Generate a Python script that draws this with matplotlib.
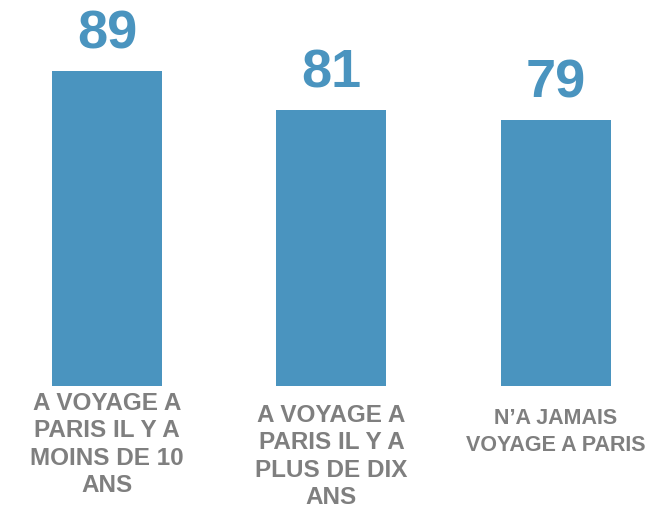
import matplotlib.pyplot as plt

categories = [
    "A VOYAGE A\nPARIS IL Y A\nMOINS DE 10\nANS",
    "A VOYAGE A\nPARIS IL Y A\nPLUS DE DIX\nANS",
    "N\u2019A JAMAIS\nVOYAGE A PARIS",
]
values = [89, 81, 79]

# vertical offset (pixels below the bar base) and size of each category label
label_drop = [6, 18, 22]
label_size = [17.5, 17.5, 15.5]
label_spacing = [1.24, 1.24, 1.4]

bar_color = "#4A94BF"
text_color = "#7F7F7F"

plt.rcParams["font.family"] = ["Liberation Sans", "DejaVu Sans"]

fig = plt.figure(figsize=(6.72, 5.08), dpi=100)
ax = fig.add_axes([0, 0.240, 1, 0.760])

x = range(len(values))
bars = ax.bar(x, values, width=0.49, color=bar_color)

ax.set_xlim(-0.4766, 2.517)
ax.set_ylim(24.4, 103.6)
ax.axis("off")

for rect, v in zip(bars, values):
    ax.annotate(str(v), (rect.get_x() + rect.get_width() / 2, v),
                xytext=(0, 8.5), textcoords="offset points",
                ha="center", va="bottom", fontsize=39,
                fontweight="bold", color=bar_color)

for i, cat in enumerate(categories):
    ax.annotate(cat, (i, 24.4), xytext=(0, -label_drop[i] * 0.72),
                textcoords="offset points", ha="center", va="top",
                fontsize=label_size[i], fontweight="bold", color=text_color,
                linespacing=label_spacing[i], annotation_clip=False)

fig.savefig("out.png", dpi=100)
